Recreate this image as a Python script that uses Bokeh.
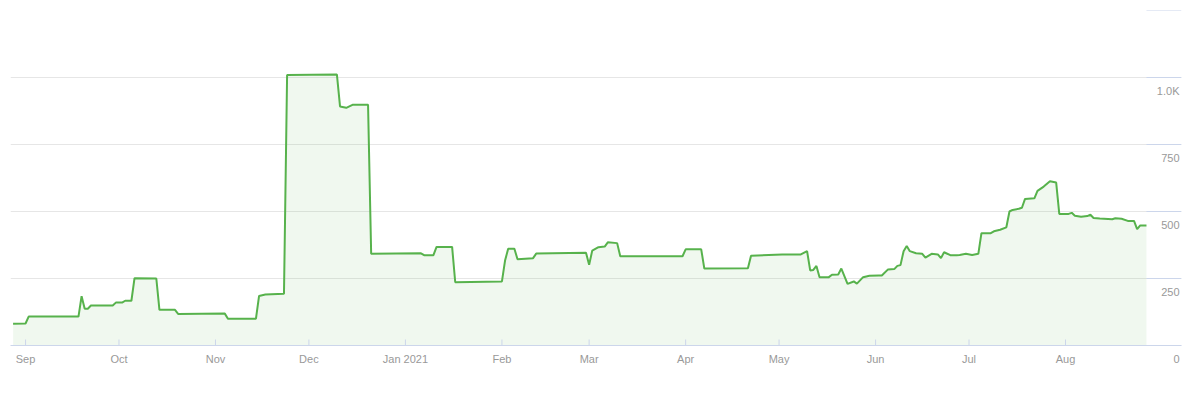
import math
import pandas as pd
from bokeh.plotting import figure
from bokeh.models import ColumnDataSource, FixedTicker, Range1d, Label
from bokeh.embed import file_html
from bokeh.resources import INLINE

dates = [
    "2020-08-28", "2020-09-01", "2020-09-02", "2020-09-18", "2020-09-19", "2020-09-20",
    "2020-09-21", "2020-09-22", "2020-09-29", "2020-09-30", "2020-10-02", "2020-10-03",
    "2020-10-05", "2020-10-06", "2020-10-13", "2020-10-14", "2020-10-19", "2020-10-20",
    "2020-11-04", "2020-11-05", "2020-11-14", "2020-11-15", "2020-11-17", "2020-11-23",
    "2020-11-24", "2020-12-10", "2020-12-11", "2020-12-13", "2020-12-15", "2020-12-20",
    "2020-12-21", "2021-01-06", "2021-01-07", "2021-01-10", "2021-01-11", "2021-01-16",
    "2021-01-17", "2021-02-01", "2021-02-02", "2021-02-03", "2021-02-05", "2021-02-06",
    "2021-02-11", "2021-02-12", "2021-02-28", "2021-03-01", "2021-03-02", "2021-03-04",
    "2021-03-06", "2021-03-07", "2021-03-10", "2021-03-11", "2021-03-31", "2021-04-01",
    "2021-04-06", "2021-04-07", "2021-04-21", "2021-04-22", "2021-05-02", "2021-05-08",
    "2021-05-10", "2021-05-11", "2021-05-12", "2021-05-13", "2021-05-14", "2021-05-17",
    "2021-05-18", "2021-05-20", "2021-05-21", "2021-05-23", "2021-05-25", "2021-05-26",
    "2021-05-28", "2021-05-30", "2021-06-02", "2021-06-03", "2021-06-05", "2021-06-07",
    "2021-06-08", "2021-06-09", "2021-06-10", "2021-06-11", "2021-06-12", "2021-06-14",
    "2021-06-16", "2021-06-17", "2021-06-19", "2021-06-21", "2021-06-22", "2021-06-23",
    "2021-06-25", "2021-06-27", "2021-06-28", "2021-06-30", "2021-07-02", "2021-07-04",
    "2021-07-05", "2021-07-08", "2021-07-09", "2021-07-11", "2021-07-13", "2021-07-14",
    "2021-07-15", "2021-07-17", "2021-07-18", "2021-07-19", "2021-07-22", "2021-07-23",
    "2021-07-25", "2021-07-27", "2021-07-29", "2021-07-30", "2021-08-02", "2021-08-03",
    "2021-08-04", "2021-08-06", "2021-08-08", "2021-08-09", "2021-08-10", "2021-08-12",
    "2021-08-16", "2021-08-17", "2021-08-19", "2021-08-21", "2021-08-23", "2021-08-24",
    "2021-08-25", "2021-08-27",
]
values = [
    81, 82, 108, 108, 184, 137,
    137, 149, 149, 160, 160, 167,
    167, 251, 250, 133, 133, 118,
    119, 100, 100, 185, 190, 193,
    1009, 1011, 892, 887, 898, 898,
    342, 344, 337, 337, 368, 368,
    236, 239, 317, 361, 361, 322,
    326, 343, 346, 301, 354, 367,
    369, 385, 382, 333, 333, 359,
    359, 287, 288, 335, 340, 340,
    352, 280, 282, 297, 255, 255,
    264, 265, 287, 230, 239, 231,
    255, 260, 261, 261, 284, 285,
    297, 300, 352, 371, 352, 344,
    342, 328, 342, 340, 326, 348,
    337, 337, 338, 342, 338, 342,
    419, 419, 426, 432, 441, 500,
    506, 510, 514, 547, 549, 577,
    593, 613, 608, 491, 491, 495,
    484, 480, 483, 488, 476, 474,
    471, 475, 473, 465, 465, 434,
    448, 448,
]

month_ticks = ["2020-09-01", "2020-10-01", "2020-11-01", "2020-12-01", "2021-01-01", "2021-02-01",
               "2021-03-01", "2021-04-01", "2021-05-01", "2021-06-01", "2021-07-01", "2021-08-01"]
month_labels = ["Sep", "Oct", "Nov", "Dec", "Jan 2021", "Feb", "Mar", "Apr", "May", "Jun", "Jul", "Aug"]
y_ticks = [0, 250, 500, 750, 1000, 1250]
y_labels = ["0", "250", "500", "750", "1.0K"]

LINE = "#57b24c"
LABEL_COLOR = "#999999"
AXIS_BLUE = "#ccd6eb"
GRID = "#e6e6e6"
FONT = "Liberation Sans"

x = pd.to_datetime(dates)
src = ColumnDataSource(dict(x=x, y=values, zero=[0] * len(values)))

x_start = pd.Timestamp("2020-08-27 04:00")
x_end = pd.Timestamp("2021-09-07 06:00")

p = figure(width=1192, height=392, x_axis_type="datetime", y_axis_location=None,
           output_backend="svg", toolbar_location=None,
           x_range=Range1d(x_start, x_end), y_range=Range1d(0, 1250),
           min_border_left=10, min_border_top=10, min_border_right=11, min_border_bottom=47)
p.outline_line_color = None
p.background_fill_color = "white"
p.border_fill_color = "white"

p.xgrid.grid_line_color = None
p.ygrid.ticker = FixedTicker(ticks=y_ticks)
p.ygrid.grid_line_color = GRID
p.ygrid.grid_line_width = 1

p.varea(x="x", y1="zero", y2="y", source=src, fill_color=LINE, fill_alpha=0.09)
p.line(x="x", y="y", source=src, line_color=LINE, line_width=2)

# bluish tick segments to the right of the series
p.segment(x0=[x[-1]] * len(y_ticks), y0=y_ticks, x1=[x_end] * len(y_ticks), y1=y_ticks,
          line_color=AXIS_BLUE, line_width=1)

# month tick marks pointing up from the axis line (lower half clipped by frame)
month_dt = pd.to_datetime(month_ticks)
p.scatter(x=month_dt, y=[0] * len(month_dt), marker="dash", angle=math.pi / 2, size=12,
          line_color=AXIS_BLUE, line_width=1)

# the "0" y-label sits on the same row as the month labels, right-aligned at the edge
zero_label_x = x_end - pd.Timedelta(days=1.6)

def to_ms(t):
    return (pd.Timestamp(t) - pd.Timestamp("1970-01-01")) // pd.Timedelta(milliseconds=1)

tick_ms = [to_ms(d) for d in month_ticks]
zero_ms = to_ms(zero_label_x)
ax = p.xaxis[0]
ax.ticker = FixedTicker(ticks=tick_ms + [zero_ms])
overrides = {float(t): lab for t, lab in zip(tick_ms, month_labels)}
overrides[float(zero_ms)] = y_labels[0]
ax.major_label_overrides = overrides
ax.axis_line_color = AXIS_BLUE
ax.major_tick_line_color = None
ax.major_tick_in = 0
ax.major_tick_out = 0
ax.minor_tick_line_color = None
ax.major_label_standoff = 7
ax.major_label_text_font = FONT
ax.major_label_text_font_size = "11px"
ax.major_label_text_color = LABEL_COLOR

for t, lab in zip(y_ticks[1:], y_labels[1:]):
    p.add_layout(Label(x=x_end, y=t, text=lab, text_align="right", text_baseline="middle",
                       x_offset=-2, y_offset=-13, text_font=FONT, text_font_size="11px",
                       text_color=LABEL_COLOR, level="overlay"))

open("out.html", "w").write(file_html(p, INLINE))
